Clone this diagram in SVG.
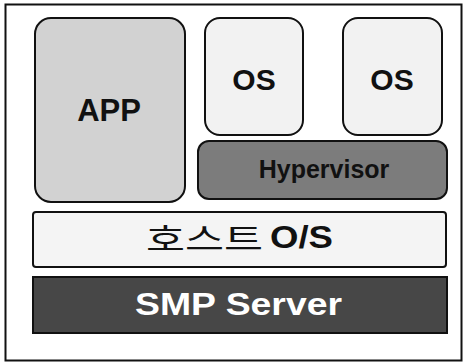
<svg xmlns="http://www.w3.org/2000/svg" width="463" height="363" viewBox="0 0 463 363">
<style>
.box{stroke:#111;stroke-width:2}
.lbl{font-family:"Liberation Sans",Arial,sans-serif;font-weight:bold;text-anchor:middle}
</style>
<rect x="0" y="0" width="463" height="363" fill="#fff"/>
<g id="frame"><rect x="5.5" y="4.5" width="456" height="356" fill="none" stroke="#111" stroke-width="2"/></g>
<g id="app"><rect class="box" x="35" y="18" width="150" height="184" rx="16" fill="#d2d2d2"/><text class="lbl" x="109" y="121" font-size="31" fill="#111">APP</text></g>
<g id="os1"><rect class="box" x="205" y="18" width="98" height="117" rx="15" fill="#f2f2f2"/><text class="lbl" x="254" y="90" font-size="30" fill="#111">OS</text></g>
<g id="os2"><rect class="box" x="343" y="18" width="99" height="117" rx="15" fill="#f2f2f2"/><text class="lbl" x="392" y="90" font-size="30" fill="#111">OS</text></g>
<g id="hypervisor"><rect class="box" x="198" y="141" width="249" height="58" rx="11" fill="#7c7c7c"/><text class="lbl" x="324" y="178" font-size="25" fill="#111">Hypervisor</text></g>
<g id="host-os"><rect class="box" x="33" y="212" width="413" height="55" rx="3" fill="#f4f4f4"/><text x="146" y="250" font-family="'Noto Sans CJK KR',sans-serif" font-weight="400" font-size="31" fill="#111"><tspan textLength="117" lengthAdjust="spacingAndGlyphs">호스트</tspan> <tspan x="270" y="248" font-family="'Liberation Sans',Arial,sans-serif" font-weight="bold" font-size="32" textLength="63" lengthAdjust="spacingAndGlyphs">O/S</tspan></text></g>
<g id="smp-server"><rect class="box" x="33" y="277" width="414" height="56" fill="#474747"/><text x="135" y="315" font-family="'Liberation Sans',Arial,sans-serif" font-weight="bold" font-size="32" fill="#fff" textLength="207" lengthAdjust="spacingAndGlyphs">SMP Server</text></g>
<g id="connectors"></g>
</svg>
